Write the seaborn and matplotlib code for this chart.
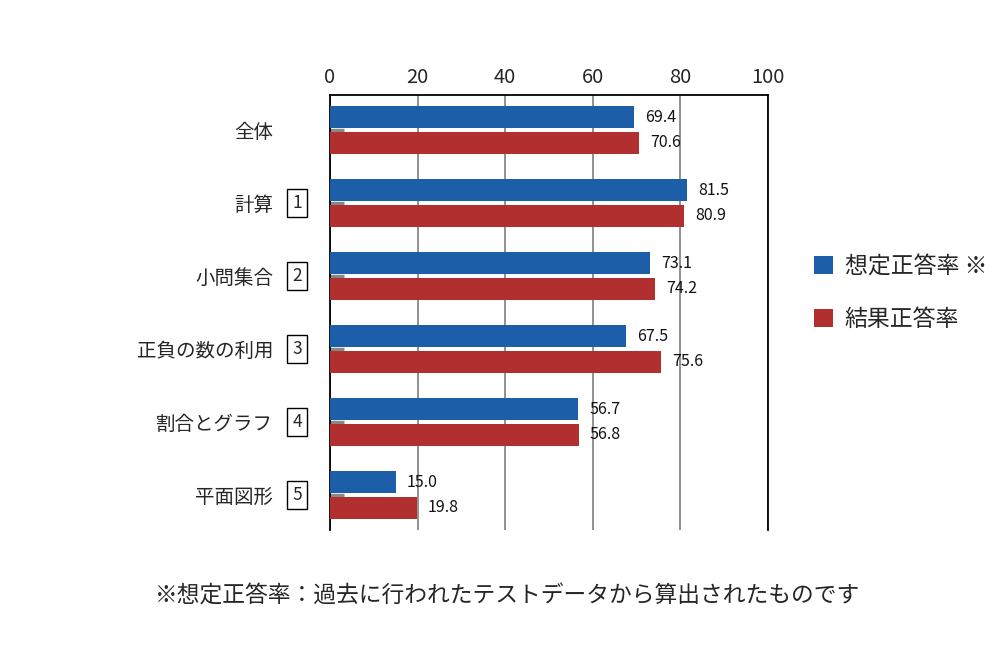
import matplotlib
matplotlib.use("Agg")
import pandas as pd
import seaborn as sns
from matplotlib import pyplot as plt
from matplotlib import transforms

# data
categories = ["全体", "計算", "小問集合", "正負の数の利用", "割合とグラフ", "平面図形"]
box_numbers = ["", "1", "2", "3", "4", "5"]
expected = [69.4, 81.5, 73.1, 67.5, 56.7, 15.0]
result = [70.6, 80.9, 74.2, 75.6, 56.8, 19.8]
series_names = ["想定正答率 ※", "結果正答率"]
colors = ["#1c5ea8", "#b22f2f"]
x_ticks = [0, 20, 40, 60, 80, 100]
footnote = "※想定正答率：過去に行われたテストデータから算出されたものです"

sns.set_theme(style="white")
plt.rcParams["font.family"] = ["Noto Sans CJK JP", "DejaVu Sans"]

df = pd.DataFrame(
    {
        "category": categories * 2,
        "value": expected + result,
        "series": [series_names[0]] * len(categories) + [series_names[1]] * len(categories),
    }
)

fig = plt.figure(figsize=(10, 6.6), dpi=100)
ax = fig.add_axes([0.330, 1 - 530 / 660, 0.438, 435 / 660])

sns.barplot(
    data=df,
    y="category",
    x="value",
    hue="series",
    order=categories,
    hue_order=series_names,
    palette=colors,
    orient="h",
    width=0.7,
    gap=0.15,
    linewidth=0,
    saturation=1,
    ax=ax,
    zorder=3,
)

for c in ax.containers:
    ax.bar_label(c, fmt="%.1f", padding=8, fontsize=11.5, color="#111111")

ax.set_xlim(0, 100)
ax.set_ylim(len(categories) - 0.52, -0.48)
ax.xaxis.tick_top()
ax.set_xticks(x_ticks)
ax.set_xticklabels([str(t) for t in x_ticks], fontsize=14.5)
ax.tick_params(axis="x", length=0, pad=5)
ax.set_xlabel("")
ax.set_ylabel("")

ax.set_yticks(range(len(categories)))
ax.set_yticklabels(categories, fontsize=14)
ax.tick_params(axis="y", direction="in", length=10, width=2.5, color="#888888", pad=41, left=True)

ax.grid(axis="x", color="#888888", linewidth=1.3, zorder=0)
ax.grid(axis="y", visible=False)
ax.set_axisbelow(True)
for side in ["top", "left", "right"]:
    ax.spines[side].set_color("black")
    ax.spines[side].set_linewidth(1.3)
ax.spines["bottom"].set_visible(False)

# boxed section numbers next to the labels
trans = transforms.blended_transform_factory(ax.transAxes, ax.transData)
for i, num in enumerate(box_numbers):
    if not num:
        continue
    ax.text(
        -0.075, i, num, transform=trans, ha="center", va="center", fontsize=12.5,
        bbox=dict(boxstyle="square,pad=0.28", fc="white", ec="black", lw=1.0),
    )

handles, labels = ax.get_legend_handles_labels()
ax.get_legend().remove()
fig.legend(
    handles, labels,
    loc="center left", bbox_to_anchor=(0.793, 0.556),
    frameon=False, fontsize=16.5,
    handlelength=0.85, handleheight=0.85, handletextpad=0.5, labelspacing=1.3,
)

fig.text(0.508, 1 - 596 / 660, footnote, ha="center", va="center", fontsize=16.4)

fig.savefig("out.png", dpi=100)
